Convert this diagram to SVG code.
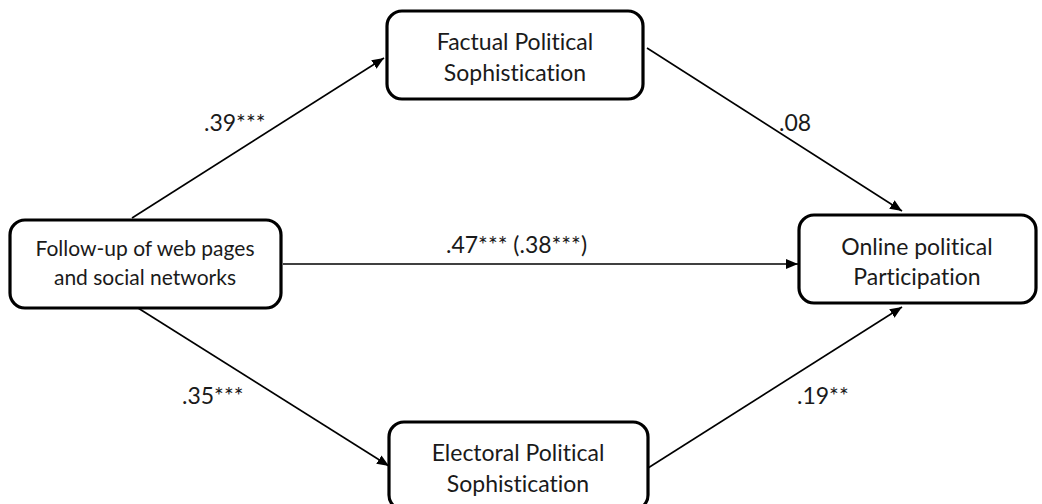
<svg xmlns="http://www.w3.org/2000/svg" width="1042" height="504" viewBox="0 0 1042 504">
<style>
text{font-variant-ligatures:none;font-feature-settings:"liga" 0}
.box{fill:#fff;stroke:#000;stroke-width:3.2}
.t{font-family:Lato,"Open Sans",sans-serif;font-size:23px;fill:#1a1a1a;text-anchor:middle}
.ts{font-size:21px}
.lbl{font-family:Lato,"Open Sans",sans-serif;font-size:23px;fill:#1a1a1a}
.c{stroke:#000;stroke-width:1.6;fill:none;marker-end:url(#ah)}
</style>
<defs>
<marker id="ah" viewBox="0 0 12 10" refX="12" refY="5" markerWidth="12" markerHeight="10" markerUnits="userSpaceOnUse" orient="auto">
<path d="M0,0 L12,5 L0,10 z" fill="#000"/>
</marker>
</defs>
<g id="connectors">
<line class="c" x1="132" y1="218" x2="384" y2="58"/>
<line class="c" x1="647" y1="48" x2="902" y2="211"/>
<line class="c" x1="283" y1="264" x2="798" y2="264"/>
<line class="c" x1="138" y1="308" x2="389" y2="466"/>
<line class="c" x1="648" y1="468" x2="902" y2="307"/>
</g>
<g id="labels">
<text class="lbl" x="204" y="131">.39***</text>
<text class="lbl" x="779" y="131">.08</text>
<text class="lbl" x="446" y="253">.47*** (.38***)</text>
<text class="lbl" x="182" y="404">.35***</text>
<text class="lbl" x="797" y="404">.19**</text>
</g>
<g id="n-follow">
<rect class="box" x="10" y="220" width="271" height="88" rx="15"/>
<text class="t ts" x="145" y="256">Follow-up of web pages</text>
<text class="t ts" x="145" y="285">and social networks</text>
</g>
<g id="n-factual">
<rect class="box" x="387" y="11" width="256" height="88" rx="15"/>
<text class="t" x="515" y="50">Factual Political</text>
<text class="t" x="515" y="81">Sophistication</text>
</g>
<g id="n-online">
<rect class="box" x="799" y="215" width="237" height="88" rx="15"/>
<text class="t" x="917" y="255">Online political</text>
<text class="t" x="917" y="285">Participation</text>
</g>
<g id="n-electoral">
<rect class="box" x="389" y="422" width="259" height="88" rx="15"/>
<text class="t" x="518" y="461">Electoral Political</text>
<text class="t" x="518" y="492">Sophistication</text>
</g>
</svg>
